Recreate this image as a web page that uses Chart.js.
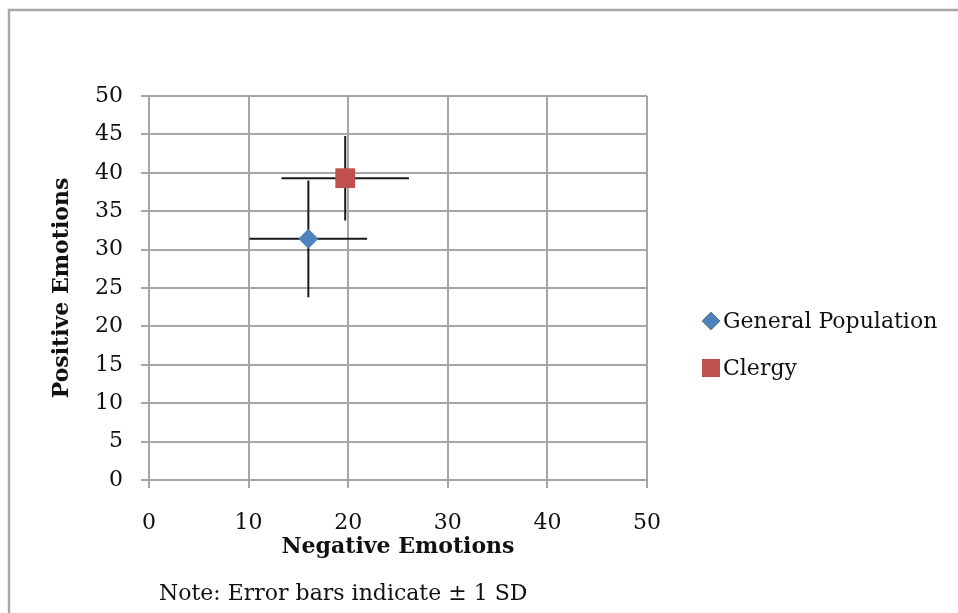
<!DOCTYPE html>
<html>
<head>
<meta charset="utf-8">
<script src="https://cdn.jsdelivr.net/npm/chart.js@4/dist/chart.umd.min.js"></script>
<style>
  html, body { margin: 0; padding: 0; background: #fff; }
  #wrap { width: 958px; height: 613px; }
</style>
</head>
<body>
<div id="wrap"><canvas id="scatterChart" width="958" height="613"></canvas></div>
<script>
const seriesNames = ["General Population", "Clergy"];
const negativeMeans = [16.0, 19.7];
const positiveMeans = [31.4, 39.3];
const negativeSd = [5.9, 6.4];
const positiveSd = [7.6, 5.5];
const xTicks = [0, 10, 20, 30, 40, 50];
const yTicks = [0, 5, 10, 15, 20, 25, 30, 35, 40, 45, 50];
const noteText = "Note: Error bars indicate \u00B1 1 SD";

const colors = ["#4F81BD", "#C0504D"];
const serif = "'DejaVu Serif', serif";
const gridColor = "#a6a6a6";

const errorBars = {
    id: "errorBars",
    beforeDatasetsDraw(chart) {
        const ctx = chart.ctx;
        const xs = chart.scales.x, ys = chart.scales.y;
        ctx.save();
        ctx.strokeStyle = "#1a1a1a";
        ctx.lineWidth = 2;
        chart.data.datasets.forEach(function (ds) {
            const p = ds.data[0];
            ctx.beginPath();
            ctx.moveTo(xs.getPixelForValue(p.x - p.xSd), ys.getPixelForValue(p.y));
            ctx.lineTo(xs.getPixelForValue(p.x + p.xSd), ys.getPixelForValue(p.y));
            ctx.moveTo(xs.getPixelForValue(p.x), ys.getPixelForValue(p.y - p.ySd));
            ctx.lineTo(xs.getPixelForValue(p.x), ys.getPixelForValue(p.y + p.ySd));
            ctx.stroke();
        });
        ctx.restore();
    }
};

const frameAndNote = {
    id: "frameAndNote",
    afterDraw(chart) {
        const ctx = chart.ctx;
        ctx.save();
        // frame
        ctx.strokeStyle = "#a8a8a8";
        ctx.lineWidth = 2.5;
        ctx.beginPath();
        ctx.moveTo(9, 613);
        ctx.lineTo(9, 10);
        ctx.lineTo(958, 10);
        ctx.stroke();
        // legend
        ctx.font = "22px " + serif;
        ctx.textBaseline = "middle";
        ctx.textAlign = "left";
        chart.data.datasets.forEach(function (ds, i) {
            const y = 322 + i * 47;
            Chart.helpers.drawPoint(ctx, {
                pointStyle: ds.pointStyle,
                radius: i === 0 ? 9 : 12.7,
                borderWidth: 0
            }, 711, y - 1);
            ctx.fillStyle = ds.backgroundColor;
            ctx.fill();
            ctx.fillStyle = "#111";
            ctx.fillText(ds.label, 723, y);
        });
        // note
        ctx.fillStyle = "#111";
        ctx.fillText(noteText, 159, 594);
        ctx.restore();
    }
};

const ctx = document.getElementById("scatterChart").getContext("2d");
new Chart(ctx, {
    type: "scatter",
    data: {
        datasets: seriesNames.map(function (name, i) {
            return {
                label: name,
                data: [{ x: negativeMeans[i], y: positiveMeans[i], xSd: negativeSd[i], ySd: positiveSd[i] }],
                pointStyle: i === 0 ? "rectRot" : "rect",
                pointRadius: i === 0 ? 10 : 14,
                backgroundColor: colors[i],
                borderColor: colors[i],
                borderWidth: 0
            };
        })
    },
    options: {
        responsive: false,
        animation: false,
        layout: { padding: { left: 40, top: 96, right: 311, bottom: 53 } },
        plugins: { legend: { display: false }, tooltip: { enabled: false } },
        scales: {
            x: {
                type: "linear",
                min: 0, max: 50,
                afterBuildTicks(s) { s.ticks = xTicks.map(v => ({ value: v })); },
                afterFit(s) { s.height = 80; },
                grid: { color: gridColor, lineWidth: 2, tickLength: 8 },
                border: { color: gridColor, width: 2 },
                ticks: { color: "#111", font: { family: serif, size: 22 }, padding: 22, maxRotation: 0 },
                title: { display: true, text: "Negative Emotions", color: "#111",
                         font: { family: serif, size: 22, weight: "bold" }, padding: { top: 0, bottom: 0 } }
            },
            y: {
                type: "linear",
                min: 0, max: 50,
                afterBuildTicks(s) { s.ticks = yTicks.map(v => ({ value: v })); },
                afterFit(s) { s.width = 109; },
                grid: { color: gridColor, lineWidth: 2, tickLength: 8 },
                border: { color: gridColor, width: 2 },
                ticks: { color: "#111", font: { family: serif, size: 22 }, padding: 18 },
                title: { display: true, text: "Positive Emotions", color: "#111",
                         font: { family: serif, size: 22, weight: "bold" }, padding: { top: 9, bottom: 0 } }
            }
        }
    },
    plugins: [errorBars, frameAndNote]
});
</script>
</body>
</html>
